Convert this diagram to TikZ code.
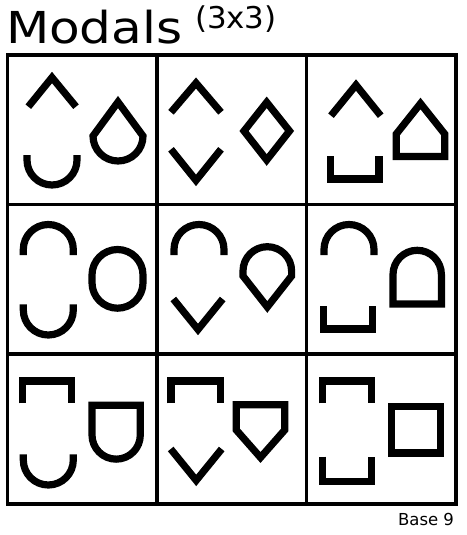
\documentclass[tikz,border=0pt]{standalone}
\usepackage{fontspec}
\setmainfont{DejaVu Sans}
\begin{document}
\begin{tikzpicture}[x=1pt,y=-1pt,
  grid/.style={line width=3.6pt,line cap=rect},
  glyph/.style={line width=7.2pt,line join=miter,line cap=butt},
  lbl/.style={inner sep=0pt,outer sep=0pt}]
\useasboundingbox (0,0) rectangle (466,535);
% titles
\node[lbl,anchor=base west,font=\fontsize{44}{44}\selectfont,xscale=1.14] (title) at (6,44) {Modals};
\node[lbl,anchor=base west,font=\fontsize{30}{30}\selectfont,xscale=1.03] (sub) at (195,28.5) {(3x3)};
\node[lbl,anchor=base east,font=\fontsize{16.5}{16.5}\selectfont] (base) at (454,525) {Base 9};
% grid
\draw[grid] (7.5,55) rectangle (456,504);
\draw[grid] (157,55) -- (157,504);
\draw[grid] (306.5,55) -- (306.5,504);
\draw[grid] (7.5,204.5) -- (456,204.5);
\draw[grid] (7.5,354) -- (456,354);
% cell (0,0)
\draw[glyph] (28.3,106.7) -- (52,77.5) -- (76,106.7);
\draw[glyph] (27,155) -- (27,160) arc[start angle=180,end angle=0,radius=25] -- (77,155);
\draw[glyph] (118,102) -- (93,136) arc[start angle=180,end angle=0,radius=25] -- cycle;
% cell (0,1)
\draw[glyph] (171,112.3) -- (196,83) -- (221,112.3);
\draw[glyph] (171,149.3) -- (196,180.4) -- (221,149.3);
\draw[glyph] (266.7,102.3) -- (289.5,131) -- (266.7,160) -- (244,131) -- cycle;
% cell (0,2)
\draw[glyph] (331,115.7) -- (356,85) -- (380.7,115.7);
\draw[glyph] (330.3,156) -- (330.3,179) -- (379,179) -- (379,156);
\draw[glyph] (396.3,156.5) -- (396.3,134) -- (420.5,103.5) -- (444.7,134) -- (444.7,156.5) -- cycle;
% cell (1,0)
\draw[glyph] (23.3,255) -- (23.3,249.5) arc[start angle=180,end angle=360,radius=25] -- (73.3,255);
\draw[glyph] (23.3,304.3) -- (23.3,310) arc[start angle=180,end angle=0,radius=25] -- (73.3,304.3);
\draw[glyph] (92,282.7) -- (92,275) arc[start angle=180,end angle=360,radius=25.5] -- (143,282.7) arc[start angle=0,end angle=180,radius=25.5] -- cycle;
% cell (1,1)
\draw[glyph] (174,255) -- (174,249.5) arc[start angle=180,end angle=360,radius=25] -- (224,255);
\draw[glyph] (173.3,299) -- (198,329.5) -- (222.7,299);
\draw[glyph] (243,276) -- (243,271) arc[start angle=180,end angle=360,radius=24.3] -- (291.6,276) -- (267.3,307) -- cycle;
% cell (1,2)
\draw[glyph] (324,255) -- (324,249.5) arc[start angle=180,end angle=360,radius=25] -- (374,255);
\draw[glyph] (323.7,306) -- (323.7,329) -- (372.3,329) -- (372.3,306);
\draw[glyph] (393,304) -- (393,274.5) arc[start angle=180,end angle=360,radius=24.2] -- (441.4,304) -- cycle;
% cell (2,0)
\draw[glyph] (22.7,403.3) -- (22.7,381) -- (71.3,381) -- (71.3,403.3);
\draw[glyph] (23.3,454.3) -- (23.3,460) arc[start angle=180,end angle=0,radius=25] -- (73.3,454.3);
\draw[glyph] (92,405.3) -- (140.3,405.3) -- (140.3,435) arc[start angle=0,end angle=180,radius=24.15] -- cycle;
% cell (2,1)
\draw[glyph] (171,403.3) -- (171,381) -- (220.3,381) -- (220.3,403.3);
\draw[glyph] (170.7,449) -- (196.2,480.4) -- (221.7,449);
\draw[glyph] (236.3,404.7) -- (284.7,404.7) -- (284.7,430) -- (260.5,457.5) -- (236.3,430) -- cycle;
% cell (2,2)
\draw[glyph] (322.7,403.3) -- (322.7,381) -- (371.3,381) -- (371.3,403.3);
\draw[glyph] (322.7,456.7) -- (322.7,481.3) -- (371.3,481.3) -- (371.3,456.7);
\draw[glyph] (391.3,406.3) rectangle (440.7,453);
\end{tikzpicture}
\end{document}
